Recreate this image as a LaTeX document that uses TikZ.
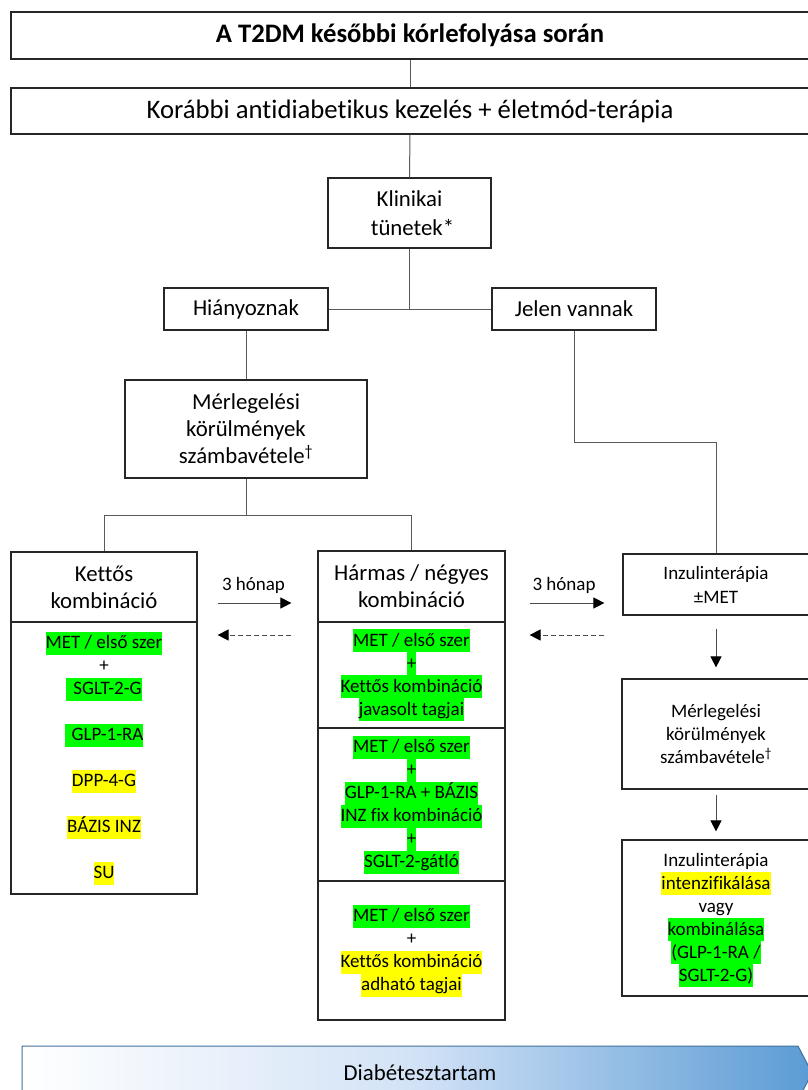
\documentclass[tikz,border=0pt]{standalone}
\usepackage{fontspec}
\setmainfont{Carlito}[Ligatures=NoCommon]
\usetikzlibrary{arrows.meta}
\definecolor{hlgreen}{RGB}{0,255,0}
\definecolor{hlyellow}{RGB}{255,255,0}
\definecolor{barblue}{RGB}{91,155,213}
\definecolor{barmid}{RGB}{210,226,246}
\definecolor{barline}{RGB}{65,113,156}
\newcommand\st{\rule[-6pt]{0pt}{23pt}}
\newcommand\hg[1]{{\setlength{\fboxsep}{0pt}\colorbox{hlgreen}{\st#1}}}
\newcommand\hy[1]{{\setlength{\fboxsep}{0pt}\colorbox{hlyellow}{\st#1}}}
\newcommand\fbig{\fontsize{26.7}{32}\selectfont}
\newcommand\fmed{\fontsize{22.8}{27}\selectfont}
\newcommand\fsm{\fontsize{19}{23}\selectfont}
\begin{document}
\begin{tikzpicture}[x=1pt,y=-1pt,
  box/.style={draw=black!85, line width=1.2pt, inner sep=0pt, align=center},
  conn/.style={draw=black!65, line width=1pt},
  arr/.style={draw=black!70, line width=1pt, -{Triangle[length=11pt,width=11pt,black]}},
  darr/.style={arr, dash pattern=on 5pt off 3pt},
  lbl/.style={font=\fsm, inner sep=0pt}]
\fill[white] (0,0) rectangle (807,1090);
\useasboundingbox (0,0) rectangle (807,1090);

% top boxes
\node[box, minimum width=798pt, minimum height=47pt, font=\fbig\bfseries] (top) at (410,35.5) {A T2DM későbbi kórlefolyása során};
\node[box, minimum width=798pt, minimum height=46pt, font=\fbig] (second) at (410,111) {Korábbi antidiabetikus kezelés + életmód-terápia};
\node[box, minimum width=163pt, minimum height=70pt, font=\fontsize{22.8}{29}\selectfont] (klin) at (409.5,213) {Klinikai\\ \hspace{6pt}tünetek*};
\node[box, minimum width=164pt, minimum height=42pt, font=\fmed] (hian) at (246,309) {Hiányoznak};
\node[box, minimum width=164pt, minimum height=42pt, font=\fmed] (jelen) at (574,309) {Jelen vannak};
\node[box, minimum width=242pt, minimum height=98pt, font=\fmed] (merl) at (246,429) {Mérlegelési\\ körülmények\\ számbavétele\textsuperscript{†}};

% left column
\node[box, minimum width=186pt, minimum height=70pt, font=\fmed] (kettos) at (104,587) {Kettős\\ kombináció};
\node[box, minimum width=186pt, minimum height=272pt, font=\fsm] (klist) at (104,758) {\hg{MET / első szer}\\ \st+\\ \hg{\hspace{7pt}SGLT-2-G}\\ \st\\ \hg{\hspace{7pt}GLP-1-RA}\\ \st\\ \hy{DPP-4-G}\\ \st\\ \hy{BÁZIS INZ}\\ \st\\ \hy{SU}};

% middle column
\node[box, minimum width=187pt, minimum height=71pt, font=\fmed] (harmas) at (411.5,586.5) {Hármas / négyes\\ kombináció};
\node[box, minimum width=187pt, minimum height=106pt, font=\fsm] (sub1) at (411.5,675) {\hg{MET / első szer}\\ \hg{+}\\ \hg{Kettős kombináció}\\ \hg{javasolt tagjai}};
\node[box, minimum width=187pt, minimum height=153pt, font=\fsm] (sub2) at (411.5,804.5) {\hg{MET / első szer}\\ \hg{+}\\ \hg{GLP-1-RA + BÁZIS}\\ \hg{INZ fix kombináció}\\ \hg{+}\\ \hg{SGLT-2-gátló}};
\node[box, minimum width=187pt, minimum height=139pt, font=\fsm] (sub3) at (411.5,950.5) {\hg{MET / első szer}\\ \st+\\ \hy{Kettős kombináció}\\ \hy{adható tagjai}};

% right column
\node[box, minimum width=186pt, minimum height=61pt, font=\fontsize{19}{24}\selectfont] (inz) at (716,584.5) {Inzulinterápia\\ ±MET};
\node[box, minimum width=188pt, minimum height=110pt, font=\fsm] (mer2) at (716,734) {Mérlegelési\\ körülmények\\ számbavétele\textsuperscript{†}};
\node[box, minimum width=188pt, minimum height=156pt, font=\fsm] (ins2) at (716,918) {\st Inzulinterápia\\ \hy{intenzifikálása}\\ \st vagy\\ \hg{kombinálása}\\ \hg{(GLP-1-RA /}\\ \hg{SGLT-2-G)}};

% connectors
\draw[conn] (top.south) -- (second.north);
\draw[conn] (second.south) -- (klin.north);
\draw[conn] (klin.south) -- (klin.south |- hian.east);
\draw[conn] (hian.east) -- (jelen.west);
\draw[conn] (hian.south) -- (merl.north);
\draw[conn] (jelen.south) -- ++(0,112) -| (inz.north);
\draw[conn] (merl.south) -- ++(0,37) coordinate (mj);
\draw[conn] (kettos.north) |- (mj) -| (harmas.north);

\coordinate (ya) at (0,603);
\coordinate (yb) at (0,635);
\draw[arr, shorten <=20pt, shorten >=26pt] (kettos.east |- ya) -- node[lbl, yshift=18pt, xshift=-4pt] {3 hónap} (harmas.west |- ya);
\draw[darr, shorten <=26pt, shorten >=20pt] (harmas.west |- yb) -- (kettos.east |- yb);
\draw[arr, shorten <=24pt, shorten >=18pt] (harmas.east |- ya) -- node[lbl, yshift=18pt] {3 hónap} (inz.west |- ya);
\draw[darr, shorten <=18pt, shorten >=24pt] (inz.west |- yb) -- (harmas.east |- yb);
\draw[arr, shorten <=13pt, shorten >=11pt] (inz.south) -- (mer2.north);
\draw[arr, shorten <=5pt, shorten >=8pt] (mer2.south) -- (ins2.north);

% bottom bar
\draw[draw=barline, line width=1pt, left color=white, right color=barblue, middle color=barmid] (22,1046) -- (798,1046) -- (812,1073) -- (798,1100) -- (22,1100) -- cycle;
\node[font=\fmed, inner sep=0pt] (bar) at (420,1073) {Diabétesztartam};
\end{tikzpicture}
\end{document}
